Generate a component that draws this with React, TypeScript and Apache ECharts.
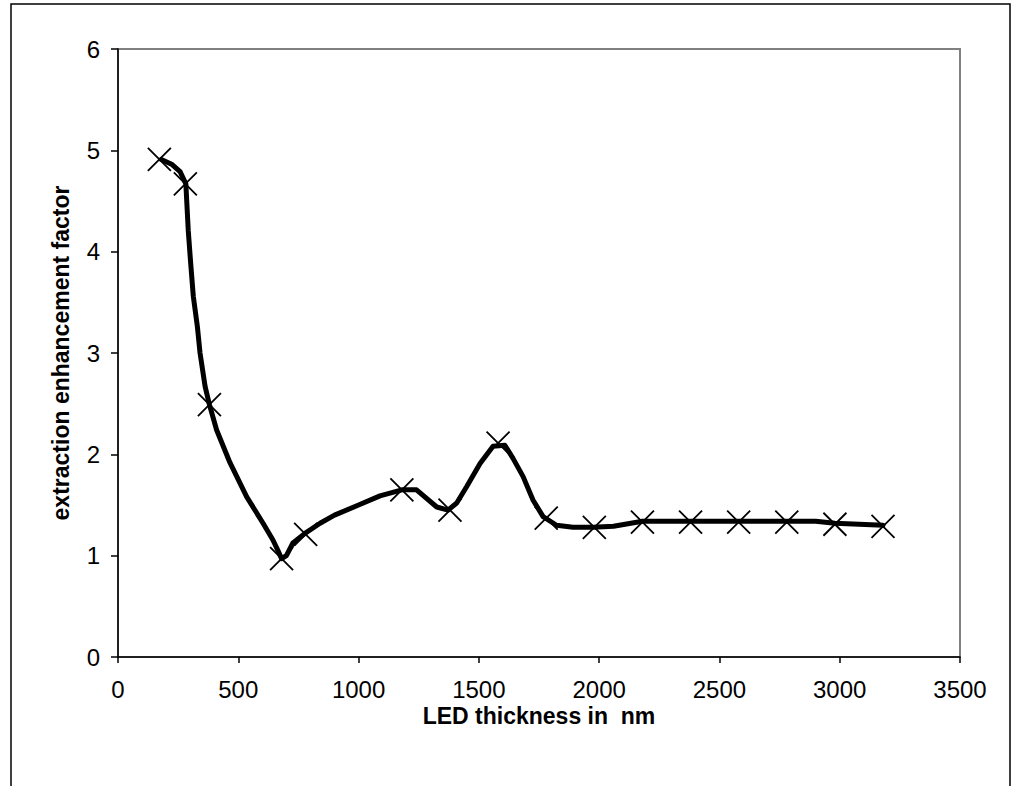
import React, { useEffect, useRef } from "react";
import * as echarts from "echarts";

const lineX = [180, 225, 258, 282, 292, 302, 313, 330, 341, 362, 380, 410, 465, 535, 603, 644, 665, 680, 700, 727, 777, 840, 900, 1000, 1089, 1180, 1241, 1325, 1372, 1408, 1449, 1505, 1559, 1608, 1642, 1684, 1725, 1767, 1823, 1891, 1975, 2060, 2180, 2380, 2580, 2780, 2900, 2980, 3180];
const lineY = [4.91, 4.86, 4.79, 4.67, 4.21, 3.89, 3.56, 3.26, 3.0, 2.67, 2.49, 2.24, 1.92, 1.58, 1.32, 1.155, 1.05, 0.97, 1.0, 1.125, 1.22, 1.32, 1.4, 1.5, 1.59, 1.65, 1.65, 1.48, 1.45, 1.52, 1.68, 1.91, 2.08, 2.09, 1.96, 1.78, 1.55, 1.385, 1.3, 1.28, 1.28, 1.29, 1.34, 1.34, 1.34, 1.34, 1.34, 1.32, 1.3];

const markerX = [172, 280, 380, 680, 780, 1180, 1380, 1580, 1780, 1980, 2180, 2380, 2580, 2780, 2980, 3180];
const markerY = [4.91, 4.67, 2.49, 0.97, 1.21, 1.65, 1.45, 2.11, 1.37, 1.28, 1.33, 1.33, 1.33, 1.33, 1.31, 1.29];

const xTitle = "LED thickness in  nm";
const yTitle = "extraction enhancement factor";

export default function App() {
  const ref = useRef<HTMLDivElement>(null);
  useEffect(() => {
    if (!ref.current) return;
    const chart = echarts.init(ref.current, null, { renderer: "svg" });
    const font = "'Liberation Sans', Arial, sans-serif";
    chart.setOption({
      animation: false,
      backgroundColor: "#fff",
      graphic: [
        {
          type: "rect",
          shape: { x: 11, y: 4, width: 999, height: 800 },
          style: { fill: "none", stroke: "#000", lineWidth: 1.5 },
          silent: true,
        },
      ],
      grid: {
        left: 118,
        top: 49,
        right: 54,
        bottom: 129,
        show: true,
        borderColor: "#808080",
        borderWidth: 2,
        backgroundColor: "transparent",
      },
      xAxis: {
        type: "value",
        min: 0,
        max: 3500,
        interval: 500,
        name: xTitle,
        nameLocation: "middle",
        nameGap: 47,
        nameMoveOverlap: false,
        nameTextStyle: { fontFamily: font, fontSize: 23, fontWeight: "bold", color: "#000" },
        axisLine: { show: true, onZero: false, lineStyle: { color: "#000", width: 1.5 } },
        axisTick: { show: true, length: 6, lineStyle: { color: "#000", width: 1.5 } },
        axisLabel: { margin: 20, fontFamily: font, fontSize: 24, color: "#000", formatter: (v: number) => String(v) },
        splitLine: { show: false },
      },
      yAxis: {
        type: "value",
        min: 0,
        max: 6,
        interval: 1,
        name: yTitle,
        nameLocation: "middle",
        nameGap: 46,
        nameMoveOverlap: false,
        nameTextStyle: { fontFamily: font, fontSize: 23, fontWeight: "bold", color: "#000" },
        axisLine: { show: true, onZero: false, lineStyle: { color: "#000", width: 1.5 } },
        axisTick: { show: true, length: 7, lineStyle: { color: "#000", width: 1.5 } },
        axisLabel: { margin: 18, fontFamily: font, fontSize: 24, color: "#000", formatter: (v: number) => String(v) },
        splitLine: { show: false },
      },
      series: [
        {
          type: "line",
          data: lineX.map((x, i) => [x, lineY[i]]),
          showSymbol: false,
          symbol: "none",
          lineStyle: { color: "#000", width: 5, join: "round", cap: "round" },
          z: 2,
        },
        {
          type: "scatter",
          data: markerX.map((x, i) => [x, markerY[i]]),
          symbol: "path://M0 0L10 10M10 0L0 10",
          symbolSize: 23,
          itemStyle: { color: "none", borderColor: "#000", borderWidth: 1.8, opacity: 1 },
          z: 3,
        },
      ],
    });
    return () => chart.dispose();
  }, []);
  return (
    <div
      ref={ref}
      style={{ position: "fixed", left: 0, top: 0, width: 1014, height: 786 }}
    />
  );
}
